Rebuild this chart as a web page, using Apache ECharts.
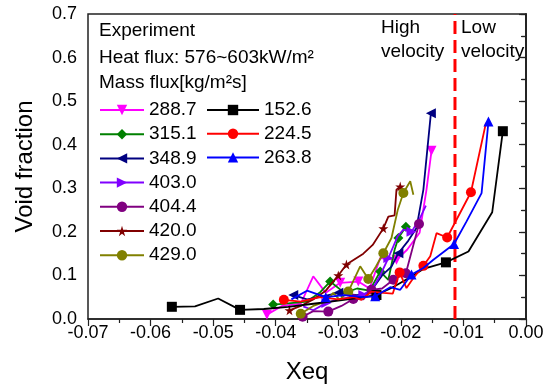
<!DOCTYPE html>
<html><head><meta charset="utf-8">
<script src="https://cdn.jsdelivr.net/npm/echarts@6/dist/echarts.min.js"></script>
<style>html,body{margin:0;padding:0;background:#fff}#c{width:552px;height:390px}</style>
</head><body><div id="c"></div>
<script>
// ---- data (Xeq, void fraction) ----
const seriesNames = ['288.7','315.1','348.9','403.0','404.4','420.0','429.0','152.6','224.5','263.8'];
const g288_7 = [[-0.0414,0.010],[-0.039,0.030],[-0.036,0.035],[-0.034,0.098],[-0.032,0.060],[-0.0297,0.083],[-0.0268,0.086],[-0.025,0.070],[-0.0233,0.140],[-0.0207,0.136],[-0.019,0.159],[-0.017,0.198],[-0.0159,0.297],[-0.0151,0.386]];
const g315_1 = [[-0.0404,0.033],[-0.038,0.036],[-0.035,0.040],[-0.033,0.060],[-0.0313,0.086],[-0.029,0.060],[-0.027,0.070],[-0.025,0.065],[-0.0233,0.109],[-0.022,0.090],[-0.021,0.159],[-0.0204,0.186],[-0.0192,0.212],[-0.018,0.200]];
const g348_9 = [[-0.0372,0.055],[-0.035,0.045],[-0.033,0.050],[-0.030,0.060],[-0.027,0.055],[-0.025,0.060],[-0.023,0.100],[-0.0215,0.120],[-0.0204,0.151],[-0.0188,0.180],[-0.0175,0.209],[-0.0164,0.297],[-0.0152,0.472]];
const g403_0 = [[-0.0356,0.029],[-0.034,0.020],[-0.0319,0.037],[-0.030,0.045],[-0.028,0.050],[-0.026,0.055],[-0.0245,0.070],[-0.0233,0.100],[-0.022,0.140],[-0.0205,0.190],[-0.0196,0.205],[-0.0183,0.200],[-0.017,0.230],[-0.016,0.260]];
const g404_4 = [[-0.0357,0.005],[-0.034,0.018],[-0.0316,0.017],[-0.0295,0.030],[-0.0276,0.046],[-0.026,0.045],[-0.0247,0.067],[-0.023,0.070],[-0.0212,0.090],[-0.0192,0.105],[-0.018,0.170],[-0.0171,0.218]];
const g420_0 = [[-0.0378,0.020],[-0.036,0.030],[-0.034,0.045],[-0.032,0.065],[-0.030,0.100],[-0.0287,0.125],[-0.026,0.150],[-0.0245,0.170],[-0.0228,0.208],[-0.022,0.235],[-0.021,0.238],[-0.0207,0.297],[-0.0201,0.304],[-0.0192,0.290]];
const g429_0 = [[-0.036,0.012],[-0.034,0.030],[-0.032,0.040],[-0.0308,0.060],[-0.0298,0.044],[-0.0284,0.063],[-0.0265,0.121],[-0.0252,0.092],[-0.024,0.120],[-0.0228,0.151],[-0.0215,0.186],[-0.0205,0.250],[-0.0196,0.289],[-0.0185,0.316],[-0.018,0.285]];
const g152_6 = [[-0.0566,0.028],[-0.0529,0.029],[-0.0492,0.047],[-0.0457,0.021],[-0.0419,0.023],[-0.038,0.028],[-0.034,0.035],[-0.030,0.042],[-0.027,0.048],[-0.0239,0.055],[-0.021,0.075],[-0.0185,0.096],[-0.0164,0.115],[-0.0128,0.130],[-0.0092,0.155],[-0.0054,0.245],[-0.0037,0.431]];
const g224_5 = [[-0.0387,0.044],[-0.036,0.040],[-0.033,0.050],[-0.030,0.045],[-0.0275,0.050],[-0.0263,0.044],[-0.0247,0.063],[-0.0228,0.060],[-0.0213,0.058],[-0.0202,0.107],[-0.0191,0.071],[-0.018,0.094],[-0.0164,0.122],[-0.0153,0.144],[-0.0143,0.197],[-0.0126,0.187],[-0.0088,0.291],[-0.0064,0.450]];
const g263_8 = [[-0.0375,0.045],[-0.035,0.065],[-0.032,0.050],[-0.029,0.055],[-0.026,0.050],[-0.0241,0.052],[-0.0217,0.073],[-0.0201,0.067],[-0.0183,0.102],[-0.0164,0.117],[-0.0148,0.136],[-0.0115,0.172],[-0.0095,0.224],[-0.0071,0.289],[-0.006,0.453]];
// indices of the points that carry a marker in the original figure
const markedPoints = [[0,5,6,9,13],[0,4,8,11,12],[0,3,8,12],[2,5,8,11],[0,2,4,6,8,9,11],[0,4,5,8,12],[0,5,7,9,12],[0,3,9,13,16],[0,9,12,15,16],[2,5,8,11,14]];
const boundaryX = -0.01135;

// ---- styling ----
const dataSets = [g288_7,g315_1,g348_9,g403_0,g404_4,g420_0,g429_0,g152_6,g224_5,g263_8];
const colors = ['#FF00FF','#008000','#000080','#8000FF','#800080','#800000','#808000','#000000','#FF0000','#0000FF'];
const STAR = 'path://M50,0 L61,35 L98,35 L68,57 L79,91 L50,70 L21,91 L32,57 L2,35 L39,35 Z';
const symbols = ['path://M0,0 L10,0 L5,10 Z','diamond','path://M10,0 L10,10 L0,5 Z','path://M0,0 L10,5 L0,10 Z','circle',STAR,'circle','rect','circle','triangle'];
const FONT = 'Liberation Sans, Arial, sans-serif';

const series = dataSets.map((d, k) => ({
  name: seriesNames[k],
  type: 'line',
  data: d.map((p, i) => markedPoints[k].includes(i) ? {value: p} : {value: p, symbol: 'none'}),
  symbol: symbols[k],
  symbolSize: 10,
  color: colors[k],
  lineStyle: {width: 1.8, color: colors[k]},
  itemStyle: {color: colors[k]},
  z: 3 + k
}));
series.push({
  name: 'boundary', type: 'line', symbol: 'none',
  data: [[boundaryX, 0], [boundaryX, 0.7]],
  lineStyle: {color: '#FF0000', width: 3, type: [13, 6]}, z: 2
});

const option = {
  animation: false,
  backgroundColor: '#fff',
  textStyle: {fontFamily: FONT},
  grid: {left: 88, right: 26, top: 14, bottom: 71, show: true, borderColor: '#222', borderWidth: 1.5},
  xAxis: {
    type: 'value', min: -0.07, max: 0, interval: 0.01,
    name: 'Xeq', nameLocation: 'middle', nameGap: 41,
    nameTextStyle: {fontSize: 24, color: '#000', fontFamily: FONT},
    axisLine: {show: true, onZero: false, lineStyle: {color: '#222', width: 1.5}},
    axisTick: {show: true, inside: false, length: 7, lineStyle: {color: '#222', width: 1.2}},
    minorTick: {show: true, splitNumber: 2, length: 4, lineStyle: {color: '#222', width: 1.2}},
    axisLabel: {fontSize: 18, color: '#000', margin: 5, fontFamily: FONT, formatter: v => v.toFixed(2)},
    splitLine: {show: false}
  },
  yAxis: [{
    type: 'value', min: 0, max: 0.7, interval: 0.1,
    name: 'Void fraction', nameLocation: 'middle', nameGap: 51,
    nameTextStyle: {fontSize: 24, color: '#000', fontFamily: FONT},
    axisLine: {show: true, lineStyle: {color: '#222', width: 1.5}},
    axisTick: {show: true, inside: false, length: 7, lineStyle: {color: '#222', width: 1.2}},
    minorTick: {show: true, splitNumber: 2, length: 4, lineStyle: {color: '#222', width: 1.2}},
    axisLabel: {fontSize: 18, color: '#000', margin: 11, fontFamily: FONT, formatter: v => v.toFixed(1)},
    splitLine: {show: false}
  }, {
    type: 'value', min: 0, max: 0.7, interval: 0.05, position: 'right',
    axisLine: {show: true, lineStyle: {color: '#222', width: 1.5}},
    axisTick: {show: true, inside: true, length: 5, lineStyle: {color: '#222', width: 1.2}},
    axisLabel: {show: false}, splitLine: {show: false}
  }],
  legend: [{
    data: seriesNames.slice(0, 7), orient: 'vertical', left: 99, top: 100, padding: 0,
    itemWidth: 44, itemHeight: 13, itemGap: 4.2,
    textStyle: {fontSize: 19, color: '#000', lineHeight: 20, fontFamily: FONT},
    selectedMode: false
  }, {
    data: seriesNames.slice(7), orient: 'vertical', left: 206, top: 100, padding: 0,
    itemWidth: 52, itemHeight: 13, itemGap: 3.7,
    textStyle: {fontSize: 19, color: '#000', lineHeight: 20, fontFamily: FONT},
    selectedMode: false
  }],
  graphic: [
    {type: 'text', left: 99, top: 21, style: {text: 'Experiment', font: '19px ' + FONT, fill: '#000'}},
    {type: 'text', left: 99, top: 48, style: {text: 'Heat flux: 576~603kW/m²', font: '19px ' + FONT, fill: '#000'}},
    {type: 'text', left: 99, top: 73, style: {text: 'Mass flux[kg/m²s]', font: '19px ' + FONT, fill: '#000'}},
    {type: 'text', left: 381, top: 16, style: {text: 'High\nvelocity', font: '19px ' + FONT, fill: '#000', lineHeight: 24}},
    {type: 'text', left: 461, top: 16, style: {text: 'Low\nvelocity', font: '19px ' + FONT, fill: '#000', lineHeight: 24}}
  ],
  series: series
};
const chart = echarts.init(document.getElementById('c'), null, {renderer: 'canvas'});
chart.setOption(option);
</script></body></html>
